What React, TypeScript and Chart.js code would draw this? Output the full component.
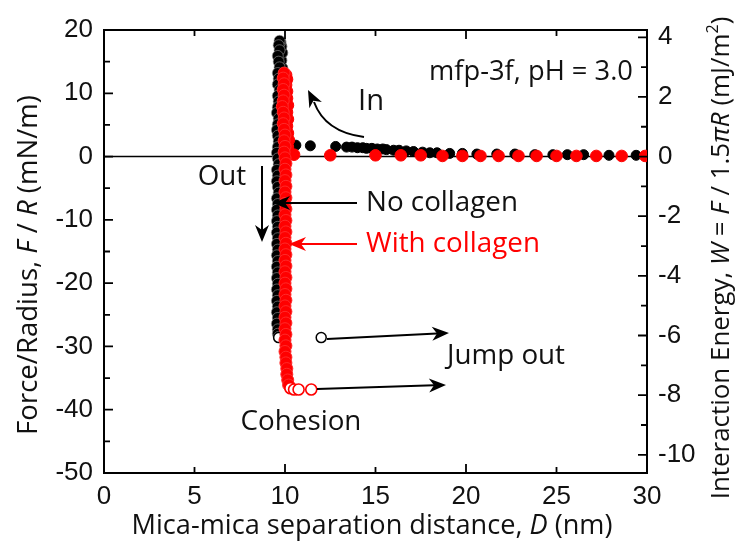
import React, { useEffect, useRef } from 'react';
import { Chart, registerables } from 'chart.js';
Chart.register(...registerables);

// ---------- data (D in nm, F/R in mN/m) ----------
const blackApproachD = [29.4, 27.9, 26.5, 25.6, 24.8, 23.8, 22.7, 21.7, 20.6, 19.8, 19.1, 18.4, 18.0, 17.6, 17.1, 16.7, 16.3, 16.0, 15.6, 15.4, 15.1, 14.8, 14.5, 14.3, 14.0, 13.7, 13.4, 12.8, 11.4, 10.6];
const blackApproachF = [0.2, 0.2, 0.3, 0.3, 0.3, 0.3, 0.4, 0.4, 0.4, 0.5, 0.5, 0.6, 0.6, 0.7, 0.8, 0.9, 1.0, 1.0, 1.1, 1.2, 1.2, 1.3, 1.3, 1.4, 1.4, 1.5, 1.5, 1.6, 1.7, 1.8];
const blackWallInD = [9.9, 9.95, 9.9, 9.85, 9.9, 9.95, 9.9, 9.85, 9.9, 9.85, 9.9, 9.85, 9.8, 9.85, 9.8, 9.75];
const blackWallInF = [0.5, 1.6, 2.8, 4.0, 5.3, 6.5, 7.8, 9.0, 10.3, 11.5, 12.8, 14.0, 15.2, 16.4, 17.4, 18.1];
const blackWallOutD = [9.7, 9.65, 9.7, 9.6, 9.65, 9.7, 9.6, 9.65, 9.6, 9.7, 9.6, 9.65, 9.6, 9.55, 9.65, 9.6, 9.55, 9.6, 9.65, 9.6, 9.55, 9.6, 9.65, 9.55, 9.6, 9.55, 9.6, 9.65, 9.55, 9.6, 9.55, 9.6, 9.55, 9.6, 9.55, 9.6, 9.55, 9.6, 9.55, 9.6, 9.55, 9.6, 9.55, 9.6, 9.55, 9.6, 9.55, 9.6, 9.55, 9.6, 9.55, 9.6, 9.6, 9.65];
const blackWallOutF = [18.3, 17.6, 16.8, 15.9, 15.0, 14.1, 13.2, 12.3, 11.4, 10.5, 9.6, 8.7, 7.8, 6.9, 6.0, 5.1, 4.2, 3.3, 2.4, 1.5, 0.6, -0.3, -1.2, -2.1, -3.0, -3.9, -4.8, -5.7, -6.6, -7.5, -8.4, -9.3, -10.2, -11.1, -12.0, -12.9, -13.8, -14.7, -15.6, -16.5, -17.4, -18.3, -19.2, -20.1, -21.0, -21.9, -22.8, -23.7, -24.6, -25.5, -26.4, -27.3, -28.0, -28.5];
const blackJumpD = [9.65, 12.0];
const blackJumpF = [-28.6, -28.6];

const redApproachD = [29.9, 28.6, 27.2, 26.1, 25.0, 23.9, 22.9, 21.8, 20.8, 19.8, 18.7, 17.5, 16.4, 15.0, 12.5, 10.5];
const redApproachF = [0.1, 0.1, 0.1, 0.1, 0.1, 0.1, 0.1, 0.1, 0.1, 0.1, 0.1, 0.2, 0.2, 0.2, 0.2, 0.3];
const redWallInD = [10.2, 10.15, 10.2, 10.15, 10.1, 10.15, 10.1, 10.15, 10.1, 10.1, 10.05, 10.1, 10.05];
const redWallInF = [0.4, 1.5, 2.6, 3.7, 4.8, 5.9, 7.0, 8.1, 9.2, 10.3, 11.3, 12.2, 12.9];
const redWallOutD = [9.95, 9.9, 9.95, 9.9, 9.95, 9.9, 9.85, 9.9, 9.95, 9.9, 9.95, 10.0, 9.95, 10.0, 9.95, 10.0, 10.05, 10.0, 10.05, 10.0, 10.05, 10.0, 10.05, 10.0, 10.05, 10.0, 10.05, 10.0, 10.05, 10.0, 10.05, 10.0, 10.05, 10.0, 10.05, 10.0, 10.05, 10.0, 10.05, 10.0, 10.05, 10.0, 10.05, 10.0, 10.05, 10.0, 10.05, 10.0, 10.05, 10.0, 10.05, 10.05, 10.1, 10.1, 10.15, 10.2];
const redWallOutF = [13.2, 12.4, 11.5, 10.6, 9.7, 8.8, 7.9, 7.0, 6.1, 5.2, 4.3, 3.4, 2.5, 1.6, 0.7, -0.2, -1.1, -2.0, -2.9, -3.8, -4.7, -5.6, -6.5, -7.4, -8.3, -9.2, -10.1, -11.0, -11.9, -12.8, -13.7, -14.6, -15.5, -16.4, -17.3, -18.2, -19.1, -20.0, -20.9, -21.8, -22.7, -23.6, -24.5, -25.4, -26.3, -27.2, -28.1, -29.0, -29.9, -30.8, -31.7, -32.6, -33.5, -34.4, -35.3, -36.1];
const redJumpD = [10.3, 10.5, 10.75, 11.45];
const redJumpF = [-36.6, -36.8, -36.8, -36.8];

const xTickValues = [0, 5, 10, 15, 20, 25, 30];
const yTickValues = [-50, -40, -30, -20, -10, 0, 10, 20];
const y2TickValues = [-10, -8, -6, -4, -2, 0, 2, 4];

const RED = '#ff0000';
const BLACK = '#000000';
const TEXT_FONT = '"Open Sans", sans-serif';
const TICK_FONT = '"Liberation Sans", Arial, sans-serif';

const pts = (d: number[], f: number[]) => d.map((x, i) => ({ x, y: f[i] }));

type Part = { t: string; i?: boolean; sup?: boolean };

function fontFor(p: Part, size: number) {
  const s = p.sup ? size * 0.62 : size;
  return `${p.i ? 'italic ' : ''}${s}px ${TEXT_FONT}`;
}
function measureParts(ctx: CanvasRenderingContext2D, parts: Part[], size: number) {
  let w = 0;
  for (const p of parts) {
    ctx.font = fontFor(p, size);
    w += ctx.measureText(p.t).width;
  }
  return w;
}
function drawAtSize(ctx: CanvasRenderingContext2D, parts: Part[], cx: number, cy: number, size: number, color: string) {
  const width = measureParts(ctx, parts, size);
  let cur = cx - width / 2;
  ctx.fillStyle = color;
  ctx.textBaseline = 'middle';
  ctx.textAlign = 'left';
  for (const p of parts) {
    ctx.font = fontFor(p, size);
    ctx.fillText(p.t, cur, p.sup ? cy - size * 0.32 : cy);
    cur += ctx.measureText(p.t).width;
  }
}
function sizeFor(ctx: CanvasRenderingContext2D, parts: Part[], width: number) {
  return (100 * width) / measureParts(ctx, parts, 100);
}
function drawParts(ctx: CanvasRenderingContext2D, parts: Part[], cx: number, cy: number, width: number, color: string) {
  drawAtSize(ctx, parts, cx, cy, sizeFor(ctx, parts, width), color);
}
function drawRotated(ctx: CanvasRenderingContext2D, parts: Part[], cx: number, cy: number, width: number, color: string) {
  ctx.save();
  ctx.translate(cx, cy);
  ctx.rotate(-Math.PI / 2);
  drawParts(ctx, parts, 0, 0, width, color);
  ctx.restore();
}
function arrowHead(ctx: CanvasRenderingContext2D, x: number, y: number, ang: number, color: string) {
  const L = 17, W = 7, N = 5;
  ctx.save();
  ctx.translate(x, y);
  ctx.rotate(ang);
  ctx.fillStyle = color;
  ctx.beginPath();
  ctx.moveTo(0, 0);
  ctx.lineTo(-L, -W);
  ctx.lineTo(-L + N, 0);
  ctx.lineTo(-L, W);
  ctx.closePath();
  ctx.fill();
  ctx.restore();
}
function arrow(ctx: CanvasRenderingContext2D, x1: number, y1: number, x2: number, y2: number, color: string) {
  const ang = Math.atan2(y2 - y1, x2 - x1);
  ctx.save();
  ctx.strokeStyle = color;
  ctx.lineWidth = 2;
  ctx.beginPath();
  ctx.moveTo(x1, y1);
  ctx.lineTo(x2 - 12 * Math.cos(ang), y2 - 12 * Math.sin(ang));
  ctx.stroke();
  ctx.restore();
  arrowHead(ctx, x2, y2, ang, color);
}

const framePlugin = {
  id: 'frame',
  beforeDatasetsDraw(chart: any) {
    const { ctx, chartArea: a, scales } = chart;
    const y0 = scales.y.getPixelForValue(0);
    ctx.save();
    ctx.strokeStyle = BLACK;
    ctx.lineWidth = 1.6;
    ctx.beginPath();
    ctx.moveTo(a.left, y0);
    ctx.lineTo(a.right, y0);
    ctx.stroke();
    ctx.restore();
  },
  afterDraw(chart: any) {
    const { ctx, chartArea: a, scales } = chart;
    ctx.save();
    ctx.strokeStyle = BLACK;
    ctx.lineWidth = 2;
    ctx.beginPath();
    ctx.moveTo(a.left - 1, a.top);
    ctx.lineTo(a.right + 1, a.top);
    ctx.stroke();
    ctx.lineWidth = 1.8;
    ctx.beginPath();
    for (let v = 5; v < 30; v += 5) {
      const px = scales.x.getPixelForValue(v);
      const len = v % 10 === 0 ? 9 : 6;
      ctx.moveTo(px, a.bottom);
      ctx.lineTo(px, a.bottom - len);
      ctx.moveTo(px, a.top);
      ctx.lineTo(px, a.top + len);
    }
    for (let v = -45; v < 20; v += 5) {
      const py = scales.y.getPixelForValue(v);
      const len = v % 10 === 0 ? 9 : 6;
      ctx.moveTo(a.left, py);
      ctx.lineTo(a.left + len, py);
    }
    for (let v = -10; v <= 4; v += 1) {
      const py = scales.y2.getPixelForValue(v);
      const len = v % 2 === 0 ? 9 : 6;
      ctx.moveTo(a.right, py);
      ctx.lineTo(a.right - len, py);
    }
    ctx.stroke();
    ctx.restore();

    // axis titles
    drawParts(ctx, [{ t: 'Mica-mica separation distance, ' }, { t: 'D', i: true }, { t: ' (nm)' }], 372, 526, 481, '#111');
    drawRotated(ctx, [{ t: 'Force/Radius, ' }, { t: 'F', i: true }, { t: ' / ' }, { t: 'R', i: true }, { t: ' (mN/m)' }], 29, 265, 340, '#111');
    drawRotated(ctx, [{ t: 'Interaction Energy, ' }, { t: 'W', i: true }, { t: ' = ' }, { t: 'F', i: true }, { t: ' / 1.5' }, { t: 'π', i: true }, { t: 'R', i: true }, { t: ' (mJ/m' }, { t: '2', sup: true }, { t: ')' }], 722, 258, 483, '#111');

    // annotations (one common size, taken from the "No collagen" label width)
    const S = sizeFor(ctx, [{ t: 'No collagen' }], 152);
    drawParts(ctx, [{ t: 'mfp-3f, pH = 3.0' }], 531, 72, 204, '#111');
    drawAtSize(ctx, [{ t: 'In' }], 371, 102, S * 1.05, '#111');
    drawAtSize(ctx, [{ t: 'Out' }], 222, 177, S, '#111');
    drawAtSize(ctx, [{ t: 'No collagen' }], 442, 203, S, '#111');
    drawAtSize(ctx, [{ t: 'With collagen' }], 453, 244, S, RED);
    drawAtSize(ctx, [{ t: 'Jump out' }], 506, 356, S, '#111');
    drawAtSize(ctx, [{ t: 'Cohesion' }], 301, 422, S, '#111');

    // arrows
    arrow(ctx, 262, 166, 262, 242, BLACK);
    arrow(ctx, 357, 203, 273, 203, BLACK);
    arrow(ctx, 357, 244, 289, 244, RED);
    arrow(ctx, 327, 339, 449, 333, BLACK);
    arrow(ctx, 317, 389, 446, 385, BLACK);
    ctx.save();
    ctx.strokeStyle = BLACK;
    ctx.lineWidth = 2;
    ctx.beginPath();
    ctx.moveTo(364, 137);
    ctx.quadraticCurveTo(325, 132, 314, 102);
    ctx.stroke();
    ctx.restore();
    arrowHead(ctx, 308, 90, Math.atan2(-12, -6), BLACK);
  },
};

export default function App() {
  const ref = useRef<HTMLCanvasElement>(null);
  useEffect(() => {
    const tickFont = { family: TICK_FONT, size: 26 };
    const chart = new Chart(ref.current as HTMLCanvasElement, {
      type: 'scatter',
      data: {
        datasets: [
          { data: pts(redJumpD, redJumpF), pointRadius: 5.5, pointBackgroundColor: '#fff', pointBorderColor: RED, pointBorderWidth: 1.6, yAxisID: 'y' },
          { data: pts(redWallOutD, redWallOutF), pointRadius: 6, pointBackgroundColor: RED, pointBorderColor: '#ff2a2a', pointBorderWidth: 1, yAxisID: 'y' },
          { data: pts(redWallInD, redWallInF), pointRadius: 6, pointBackgroundColor: RED, pointBorderColor: RED, pointBorderWidth: 1, yAxisID: 'y' },
          { data: pts(redApproachD, redApproachF), pointRadius: 5.8, pointBackgroundColor: RED, pointBorderColor: RED, pointBorderWidth: 1, yAxisID: 'y' },
          { data: pts(blackJumpD, blackJumpF), pointRadius: 5, pointBackgroundColor: '#fff', pointBorderColor: BLACK, pointBorderWidth: 1.5, yAxisID: 'y' },
          { data: pts(blackWallOutD, blackWallOutF), pointRadius: 5.5, pointBackgroundColor: BLACK, pointBorderColor: '#9a9a9a', pointBorderWidth: 0.6, yAxisID: 'y' },
          { data: pts(blackWallInD, blackWallInF), pointRadius: 5.5, pointBackgroundColor: BLACK, pointBorderColor: '#666', pointBorderWidth: 0.8, yAxisID: 'y' },
          { data: pts(blackApproachD, blackApproachF), pointRadius: 5, pointBackgroundColor: BLACK, pointBorderColor: BLACK, pointBorderWidth: 1, yAxisID: 'y' },
        ],
      },
      options: {
        responsive: false,
        animation: false,
        devicePixelRatio: 1,
        layout: { padding: { top: 30, left: 0, right: 0, bottom: 0 } },
        plugins: { legend: { display: false }, tooltip: { enabled: false } },
        scales: {
          x: {
            type: 'linear',
            min: 0,
            max: 30,
            afterBuildTicks: (s: any) => { s.ticks = xTickValues.map((v) => ({ value: v })); },
            afterFit: (s: any) => { s.height = 71; },
            grid: { display: false, drawTicks: false },
            border: { display: true, color: BLACK, width: 2 },
            ticks: { font: tickFont, color: '#111', padding: 8, maxRotation: 0 },
          },
          y: {
            type: 'linear',
            position: 'left',
            min: -50,
            max: 20,
            afterBuildTicks: (s: any) => { s.ticks = yTickValues.map((v) => ({ value: v })); },
            afterFit: (s: any) => { s.width = 104; },
            grid: { display: false, drawTicks: false },
            border: { display: true, color: BLACK, width: 2 },
            ticks: { font: tickFont, color: '#111', padding: 11 },
          },
          y2: {
            type: 'linear',
            position: 'right',
            min: -50 / (1.5 * Math.PI),
            max: 20 / (1.5 * Math.PI),
            afterBuildTicks: (s: any) => { s.ticks = y2TickValues.map((v) => ({ value: v })); },
            afterFit: (s: any) => { s.width = 94; },
            grid: { display: false, drawTicks: false },
            border: { display: true, color: BLACK, width: 2 },
            ticks: { font: tickFont, color: '#111', padding: 11 },
          },
        },
      },
      plugins: [framePlugin],
    } as any);
    return () => chart.destroy();
  }, []);
  return (
    <div style={{ position: 'absolute', left: 0, top: 0, width: 741, height: 544, background: '#fff' }}>
      <canvas ref={ref} width={741} height={544} style={{ width: 741, height: 544 }} />
    </div>
  );
}
